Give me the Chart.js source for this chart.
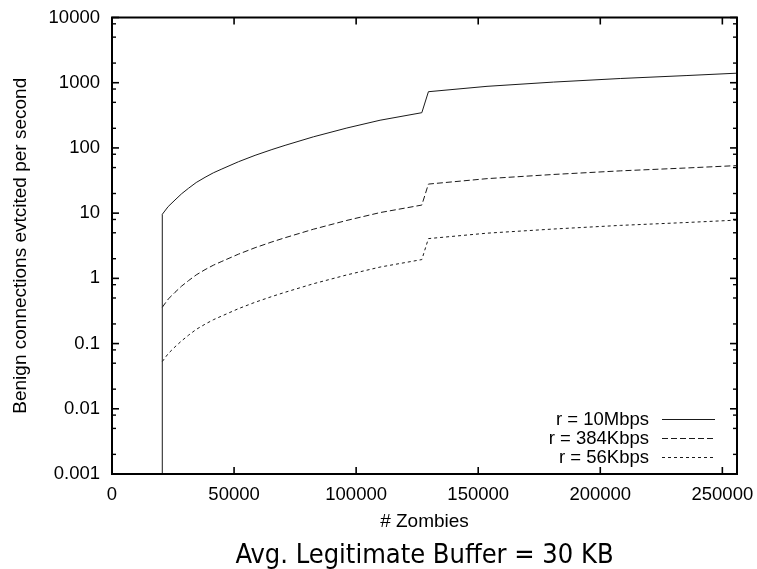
<!DOCTYPE html>
<html>
<head>
<meta charset="utf-8">
<script src="https://cdn.jsdelivr.net/npm/chart.js@4/dist/chart.umd.min.js"></script>
<style>
  html, body { margin: 0; padding: 0; background: #fff; }
</style>
</head>
<body>
<canvas id="bufferChart" width="757" height="569"></canvas>
<script>
// # zombies (x). First entry is the cut-off where the 10Mbps curve rises from the floor.
const zombies = [20600, 20600, 23000, 25800, 28500, 31300, 34500, 38100, 41500, 45000, 51800,
  58600, 65500, 70900, 82500, 96200, 109800, 126900, 129600, 153600, 180900, 208200,
  235500, 256000];

// benign connections evicted per second
const rate10M = [0.001, 9.6, 12.6, 15.9, 19.8, 24, 29.5, 35.4, 41.5, 47.5, 61.4,
  77, 94.4, 109.6, 148, 202, 266, 347, 728, 880, 1023, 1160,
  1288, 1400];
const rate384K = [null, 0.36, 0.48, 0.61, 0.76, 0.92, 1.13, 1.36, 1.59, 1.82, 2.35,
  2.95, 3.62, 4.2, 5.67, 7.74, 10.2, 13.3, 27.9, 33.8, 39.2, 44.5,
  49.3, 53.6];
const rate56K = [null, 0.053, 0.07, 0.089, 0.11, 0.134, 0.165, 0.198, 0.232, 0.265, 0.343,
  0.43, 0.527, 0.612, 0.827, 1.13, 1.49, 1.94, 4.07, 4.93, 5.71, 6.49,
  7.19, 7.82];

const seriesLabels = ["r = 10Mbps", "r = 384Kbps", "r = 56Kbps"];
const yDecades = [0.001, 0.01, 0.1, 1, 10, 100, 1000, 10000];
const yMinorSteps = [2, 5, 8];
const xTicks = [0, 50000, 100000, 150000, 200000, 250000];

const toPoints = (ys) => zombies.map((x, i) => ({ x: x, y: ys[i] }));

const labelFont = { family: "'Liberation Sans', Arial, sans-serif", size: 18.5 };
const axisTitleFont = { family: "'Liberation Sans', Arial, sans-serif", size: 19 };

// gnuplot-like frame with inward ticks on all four sides
const gnuplotFrame = {
  id: "gnuplotFrame",
  afterDatasetsDraw(chart) {
    const { ctx, chartArea: a, scales } = chart;
    ctx.save();
    ctx.strokeStyle = "#000";

    function tick(x1, y1, x2, y2, w) {
      ctx.lineWidth = w;
      ctx.beginPath();
      ctx.moveTo(x1, y1);
      ctx.lineTo(x2, y2);
      ctx.stroke();
    }

    yDecades.forEach((v, i) => {
      const y = scales.y.getPixelForValue(v);
      tick(a.left, y, a.left + 7, y, 1.6);
      tick(a.right, y, a.right - 7, y, 1.6);
      if (i < yDecades.length - 1) {
        yMinorSteps.forEach((m) => {
          const ym = scales.y.getPixelForValue(v * m);
          tick(a.left, ym, a.left + 4, ym, 1.4);
          tick(a.right, ym, a.right - 4, ym, 1.4);
        });
      }
    });

    xTicks.forEach((v) => {
      const x = scales.x.getPixelForValue(v);
      tick(x, a.bottom, x, a.bottom - 7, 1.6);
      tick(x, a.top, x, a.top + 7, 1.6);
    });

    ctx.lineWidth = 2;
    ctx.strokeRect(a.left, a.top, a.right - a.left, a.bottom - a.top);
    ctx.restore();
  },
};

// key in the lower right corner, text left of the line sample
const keyBox = {
  id: "keyBox",
  afterDatasetsDraw(chart) {
    const { ctx, chartArea: a } = chart;
    ctx.save();
    ctx.font = labelFont.size + "px " + labelFont.family;
    ctx.textAlign = "right";
    ctx.textBaseline = "middle";
    chart.data.datasets.forEach((ds, i) => {
      const y = a.bottom - 55 + i * 19;
      ctx.fillStyle = "#000";
      ctx.fillText(ds.label, a.right - 88, y + 1);
      ctx.strokeStyle = ds.borderColor;
      ctx.lineWidth = ds.borderWidth;
      ctx.setLineDash(ds.borderDash || []);
      ctx.beginPath();
      ctx.moveTo(a.right - 75, y + 0.5);
      ctx.lineTo(a.right - 22, y + 0.5);
      ctx.stroke();
    });
    ctx.restore();
  },
};

const lineStyle = {
  borderColor: "#1a1a1a",
  borderWidth: 1,
  pointRadius: 0,
  tension: 0,
  fill: false,
};

const ctx = document.getElementById("bufferChart").getContext("2d");
new Chart(ctx, {
  type: "line",
  data: {
    datasets: [
      { ...lineStyle, label: seriesLabels[0], data: toPoints(rate10M), borderDash: [] },
      { ...lineStyle, label: seriesLabels[1], data: toPoints(rate384K), borderDash: [6, 3] },
      { ...lineStyle, label: seriesLabels[2], data: toPoints(rate56K), borderDash: [3, 3] },
    ],
  },
  options: {
    responsive: false,
    animation: false,
    devicePixelRatio: 1,
    layout: { padding: { top: 17.5, right: 20, bottom: 0, left: 0 } },
    scales: {
      x: {
        type: "linear",
        min: 0,
        max: 256000,
        afterBuildTicks: (s) => { s.ticks = xTicks.map((v) => ({ value: v })); },
        afterFit: (s) => {
          s.height = 68;
          s.paddingLeft = 0;
          s.paddingRight = 0;
        },
        grid: { display: false, drawTicks: false },
        border: { display: false },
        ticks: {
          color: "#000",
          font: labelFont,
          padding: 10,
          maxRotation: 0,
          autoSkip: false,
          callback: (v) => String(v),
        },
        title: {
          display: true,
          text: "# Zombies",
          color: "#000",
          font: axisTitleFont,
          padding: { top: 0, bottom: 8.5 },
        },
      },
      y: {
        type: "logarithmic",
        min: 0.001,
        max: 10000,
        afterBuildTicks: (s) => { s.ticks = yDecades.map((v) => ({ value: v })); },
        afterFit: (s) => {
          s.width = 112;
          s.paddingTop = 0;
          s.paddingBottom = 0;
        },
        grid: { display: false, drawTicks: false },
        border: { display: false },
        ticks: {
          color: "#000",
          font: labelFont,
          padding: 12,
          autoSkip: false,
          callback: (v) => String(v),
        },
        title: {
          display: true,
          text: "Benign connections evtcited per second",
          color: "#000",
          font: axisTitleFont,
          padding: { top: 9, bottom: 0 },
        },
      },
    },
    plugins: {
      legend: { display: false },
      tooltip: { enabled: false },
      title: {
        display: true,
        position: "bottom",
        fullSize: false,
        text: "Avg. Legitimate Buffer = 30 KB",
        color: "#000",
        font: { family: "'DejaVu Sans Condensed', 'DejaVu Sans', sans-serif", size: 27, weight: "normal", lineHeight: 1.0 },
        padding: { top: 0, bottom: 0 },
      },
    },
  },
  plugins: [gnuplotFrame, keyBox],
});
</script>
</body>
</html>
